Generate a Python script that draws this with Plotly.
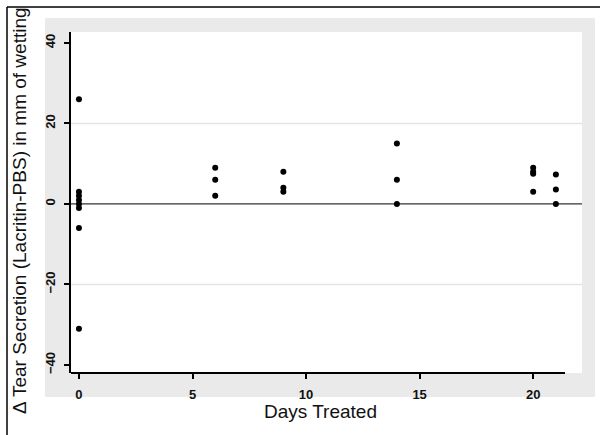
import plotly.graph_objects as go

days = [0, 0, 0, 0, 0, 0, 0, 0,
        6, 6, 6,
        9, 9, 9,
        14, 14, 14,
        20, 20, 20, 20,
        21, 21, 21]
delta_tear = [26, 3, 2, 1, 0, -1, -6, -31,
              9, 6, 2,
              8, 4, 3,
              15, 6, 0,
              9, 8, 7.5, 3,
              7.3, 3.6, 0]
x_ticks = [0, 5, 10, 15, 20]
y_ticks = [-40, -20, 0, 20, 40]
grid_vals = [-20, 20]
x_title = "Days Treated"
y_title = "Δ Tear Secretion (Lacritin-PBS) in mm of wetting"

W, H = 600, 435
L, R, T, B = 71, 582, 32, 373  # plot-area pixel box


def px_x(p):
    return (p - L) / (R - L)


def px_y(p):
    return (B - p) / (B - T)


FONT = "Liberation Sans, Arial, sans-serif"

fig = go.Figure()
fig.add_trace(go.Scatter(
    x=days, y=delta_tear, mode="markers",
    marker=dict(color="black", size=6, symbol="circle"),
    showlegend=False, cliponaxis=False,
))

shapes = []
# outer gray graph region
shapes.append(dict(type="rect", xref="paper", yref="paper", layer="below",
                   x0=px_x(45), x1=px_x(595), y0=px_y(397), y1=px_y(18),
                   fillcolor="#eaeaea", line=dict(width=0)))
# white plot region
shapes.append(dict(type="rect", xref="paper", yref="paper", layer="below",
                   x0=0, x1=1, y0=0, y1=1,
                   fillcolor="white", line=dict(width=0)))
# grid lines
for g in grid_vals:
    shapes.append(dict(type="line", xref="paper", yref="y", layer="below",
                       x0=0, x1=1, y0=g, y1=g,
                       line=dict(color="#e4e4e4", width=1.5)))
# zero reference line
shapes.append(dict(type="line", xref="paper", yref="y", layer="above",
                   x0=0, x1=1, y0=0, y1=0,
                   line=dict(color="black", width=1)))
# x axis line (spans the scale range only)
shapes.append(dict(type="line", xref="x", yref="paper", layer="above",
                   x0=-0.35, x1=21.4, y0=0, y1=0,
                   line=dict(color="black", width=2)))
# outer frame: left and top edges
shapes.append(dict(type="line", xref="paper", yref="paper", layer="above",
                   x0=px_x(7), x1=px_x(7), y0=px_y(435), y1=px_y(7),
                   line=dict(color="black", width=1.5)))
shapes.append(dict(type="line", xref="paper", yref="paper", layer="above",
                   x0=px_x(7), x1=px_x(600), y0=px_y(7), y1=px_y(7),
                   line=dict(color="black", width=1.5)))

tickfont = dict(size=13, family=FONT, color="#111", weight="bold")
titlefont = dict(size=19, family=FONT, color="#111")

annotations = [
    dict(text=y_title, xref="paper", yref="paper", x=px_x(19), y=px_y(211),
         xanchor="center", yanchor="middle", textangle=-90, showarrow=False,
         font=titlefont),
    dict(text=x_title, xref="paper", yref="paper", x=px_x(320), y=px_y(412),
         xanchor="center", yanchor="middle", showarrow=False, font=titlefont),
]

fig.update_layout(
    width=W, height=H,
    margin=dict(l=L, r=W - R, t=T, b=H - B, pad=0),
    paper_bgcolor="white", plot_bgcolor="white",
    font=dict(family=FONT, color="#111"),
    shapes=shapes,
    annotations=annotations,
    xaxis=dict(
        range=[-0.35, 22.15], tickvals=x_ticks, showgrid=False, zeroline=False,
        showline=False, ticks="outside", ticklen=5, tickwidth=1.5, tickcolor="black",
        tickfont=tickfont, ticklabelstandoff=4,
    ),
    yaxis=dict(
        range=[-42.0, 42.7], tickvals=y_ticks, showgrid=False, zeroline=False,
        showline=True, linecolor="black", linewidth=2,
        ticks="outside", ticklen=5, tickwidth=1.5, tickcolor="black", tickangle=-90,
        tickfont=tickfont, ticklabelstandoff=4,
    ),
)

fig.write_html("out.html", config={"displayModeBar": False},
               post_script="document.body.style.margin='0px';")
